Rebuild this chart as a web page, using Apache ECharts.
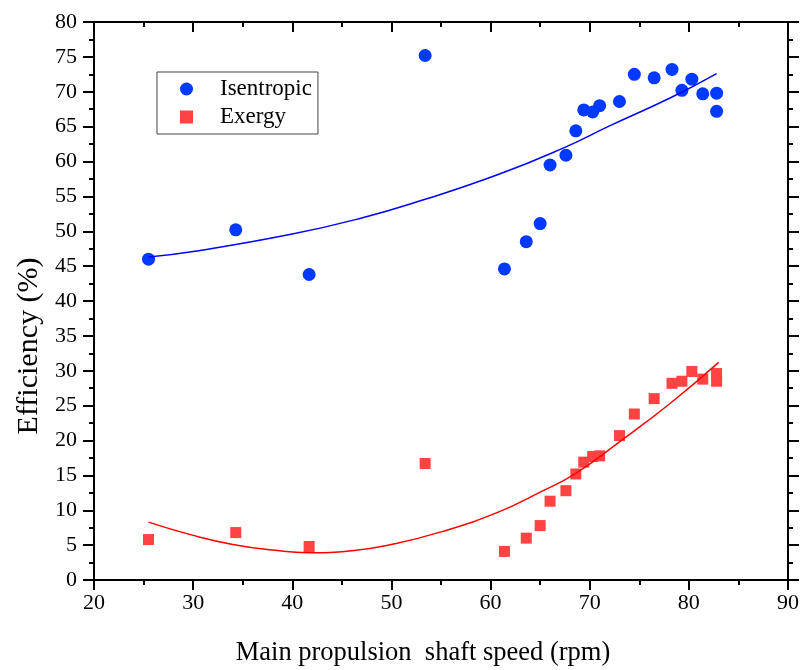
<!DOCTYPE html>
<html>
<head>
<meta charset="utf-8">
<script src="https://cdn.jsdelivr.net/npm/echarts@6/dist/echarts.min.js"></script>
<style>
  html, body { margin: 0; padding: 0; background: #fff; }
  #main { width: 802px; height: 670px; }
</style>
</head>
<body>
<div id="main"></div>
<script>
// shaft speed (rpm) of each measurement
var speeds = [25.5, 34.3, 41.7, 53.4, 61.4, 63.6, 65.0, 66.0, 67.6, 68.6, 69.4,
  70.3, 71.0, 73.0, 74.5, 76.5, 78.3, 79.3, 80.3, 81.4, 82.8, 82.8]
// efficiency (%)
var isentropic = [46.0, 50.2, 43.8, 75.2, 44.6, 48.5, 51.1, 59.5, 60.9, 64.4, 67.4,
  67.1, 68.0, 68.6, 72.5, 72.0, 73.2, 70.2, 71.8, 69.7, 69.8, 67.2]
var exergy = [5.8, 6.8, 4.8, 16.7, 4.1, 6.0, 7.8, 11.3, 12.8, 15.2, 16.9,
  17.7, 17.8, 20.7, 23.8, 26.0, 28.2, 28.5, 29.9, 28.8, 29.6, 28.5]

// fitted curves
var isenFitX = [25.5, 30, 40, 47, 53, 60.9, 67.6, 72, 78.1, 82.8]
var isenFitY = [46.3, 47.1, 49.6, 51.9, 54.4, 58.2, 62.1, 65.1, 69.1, 72.6]
var exFitX = [25.5, 30, 34, 38, 41.7, 46, 50, 55, 60.9, 65, 68.6, 73, 78.1, 83]
var exFitY = [8.3, 6.4, 5.1, 4.3, 3.9, 4.2, 5.1, 6.9, 9.8, 12.6, 15.3, 19.8, 25.3, 31.2]

var xTicks = { min: 20, max: 90, interval: 10 }
var yTicks = { min: 0, max: 80, interval: 5 }

function pairs (xs, ys) {
  return xs.map(function (x, i) { return [x, ys[i]] })
}

var font = 'Liberation Serif, Times New Roman, serif'
var axisLine = { show: true, onZero: false, lineStyle: { color: '#000', width: 2 } }

var chart = echarts.init(document.getElementById('main'))

chart.setOption({
  animation: false,
  backgroundColor: '#fff',
  textStyle: { fontFamily: font },
  grid: { left: 94, right: 14, top: 22, bottom: 90, outerBoundsMode: 'none', containLabel: false },
  legend: {
    data: ['Isentropic', 'Exergy'],
    orient: 'vertical',
    left: 157,
    top: 72,
    padding: [5, 6, 5, 23],
    itemWidth: 13,
    itemHeight: 13,
    itemGap: 4,
    borderColor: '#444',
    borderWidth: 1,
    textStyle: { fontFamily: font, fontSize: 23, color: '#000', lineHeight: 24, padding: [0, 0, 0, 22] }
  },
  xAxis: [{
    type: 'value',
    position: 'bottom',
    min: xTicks.min, max: xTicks.max, interval: xTicks.interval,
    name: 'Main propulsion  shaft speed (rpm)',
    nameLocation: 'middle',
    nameGap: 60,
    nameTextStyle: { fontFamily: font, fontSize: 26.5, color: '#000', padding: [0, 36, 0, 0] },
    axisLine: axisLine,
    axisTick: { length: 10, lineStyle: { color: '#000', width: 2 } },
    minorTick: { show: true, splitNumber: 2, length: 5, lineStyle: { color: '#000', width: 2 } },
    axisLabel: { fontFamily: font, fontSize: 22, color: '#000', margin: 12 },
    splitLine: { show: false }
  }, {
    type: 'value',
    position: 'top',
    min: xTicks.min, max: xTicks.max, interval: xTicks.interval,
    axisLine: axisLine,
    axisTick: { inside: true, length: 10, lineStyle: { color: '#000', width: 2 } },
    minorTick: { show: true, splitNumber: 2, length: 5, lineStyle: { color: '#000', width: 2 } },
    axisLabel: { show: false },
    splitLine: { show: false }
  }],
  yAxis: [{
    type: 'value',
    position: 'left',
    min: yTicks.min, max: yTicks.max, interval: yTicks.interval,
    name: 'Efficiency (%)',
    nameLocation: 'middle',
    nameGap: 50,
    nameTextStyle: { fontFamily: font, fontSize: 30, color: '#000', padding: [0, 90, 0, 0] },
    axisLine: axisLine,
    axisTick: { length: 11, lineStyle: { color: '#000', width: 2 } },
    minorTick: { show: true, splitNumber: 2, length: 5, lineStyle: { color: '#000', width: 2 } },
    axisLabel: { fontFamily: font, fontSize: 22, color: '#000', margin: 17 },
    splitLine: { show: false }
  }, {
    type: 'value',
    position: 'right',
    min: yTicks.min, max: yTicks.max, interval: yTicks.interval,
    axisLine: axisLine,
    axisTick: { length: 11, lineStyle: { color: '#000', width: 2 } },
    minorTick: { show: true, splitNumber: 2, length: 5, lineStyle: { color: '#000', width: 2 } },
    axisLabel: { show: false },
    splitLine: { show: false }
  }],
  series: [{
    name: 'Isentropic fit',
    type: 'line',
    smooth: true,
    showSymbol: false,
    silent: true,
    data: pairs(isenFitX, isenFitY),
    lineStyle: { color: '#0000ff', width: 1.5 }
  }, {
    name: 'Exergy fit',
    type: 'line',
    smooth: true,
    showSymbol: false,
    silent: true,
    data: pairs(exFitX, exFitY),
    lineStyle: { color: '#ff0000', width: 1.5 }
  }, {
    name: 'Isentropic',
    type: 'scatter',
    symbol: 'circle',
    symbolSize: 13,
    itemStyle: { color: '#0039ff', opacity: 1 },
    data: pairs(speeds, isentropic)
  }, {
    name: 'Exergy',
    type: 'scatter',
    symbol: 'rect',
    symbolSize: 11,
    itemStyle: { color: '#ff4242', opacity: 1 },
    data: pairs(speeds, exergy)
  }]
})
</script>
</body>
</html>
